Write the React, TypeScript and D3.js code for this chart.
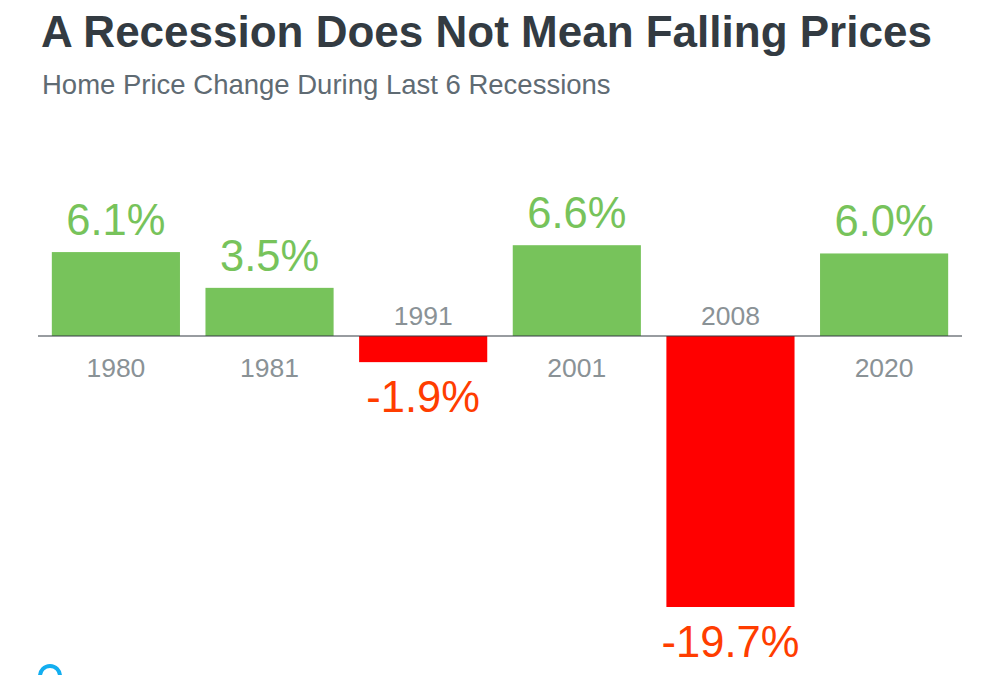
import * as d3 from 'd3';

const years = ['1980', '1981', '1991', '2001', '2008', '2020'];
const changes = [6.1, 3.5, -1.9, 6.6, -19.7, 6.0];

const title = 'A Recession Does Not Mean Falling Prices';
const subtitle = 'Home Price Change During Last 6 Recessions';

export default function App() {
  const width = 1000;
  const height = 675;
  const baseline = 336;
  const font = 'Liberation Sans, Arial, Helvetica, sans-serif';

  const data = years.map((y, i) => ({ year: y, value: changes[i] }));

  const x = d3.scaleBand()
    .domain(years)
    .range([38, 962])
    .paddingInner(0.166)
    .paddingOuter(0.09);

  // 13.76px per percentage point
  const y = d3.scaleLinear()
    .domain([-19.7, 0])
    .range([607, baseline]);

  return (
    <svg width={width} height={height}
      style={{ position: 'absolute', left: 0, top: 0, background: '#fff', fontFamily: font }}>
      <text x={41} y={47} fontSize={44} fontWeight="bold" fill="#333b42">{title}</text>
      <text x={42} y={94} fontSize={27.5} fill="#5f6b73">{subtitle}</text>

      {data.map(d => {
        const x0 = x(d.year) ?? 0;
        const cx = x0 + x.bandwidth() / 2;
        const pos = d.value >= 0;
        const top = Math.min(y(d.value), y(0));
        const h = Math.abs(y(d.value) - y(0));
        return (
          <g key={d.year}>
            <rect x={x0} y={top} width={x.bandwidth()} height={h}
              fill={pos ? '#77c35b' : '#ff0000'} />
            <text x={cx} textAnchor="middle" fontSize={43.5}
              y={pos ? y(d.value) - 17 : y(d.value) + 50}
              fill={pos ? '#77c35b' : '#ff3d00'}>
              {(d.value < 0 ? '-' : '') + Math.abs(d.value).toFixed(1) + '%'}
            </text>
            <text x={cx} textAnchor="middle" fontSize={26.5}
              y={pos ? baseline + 41 : baseline - 11}
              fill="#8a9296">{d.year}</text>
          </g>
        );
      })}

      <line x1={38} x2={962} y1={baseline} y2={baseline} stroke="#333b42" strokeWidth={1.2} />

      <circle cx={50} cy={676} r={10} fill="none" stroke="#13aef0" strokeWidth={4} />
    </svg>
  );
}
